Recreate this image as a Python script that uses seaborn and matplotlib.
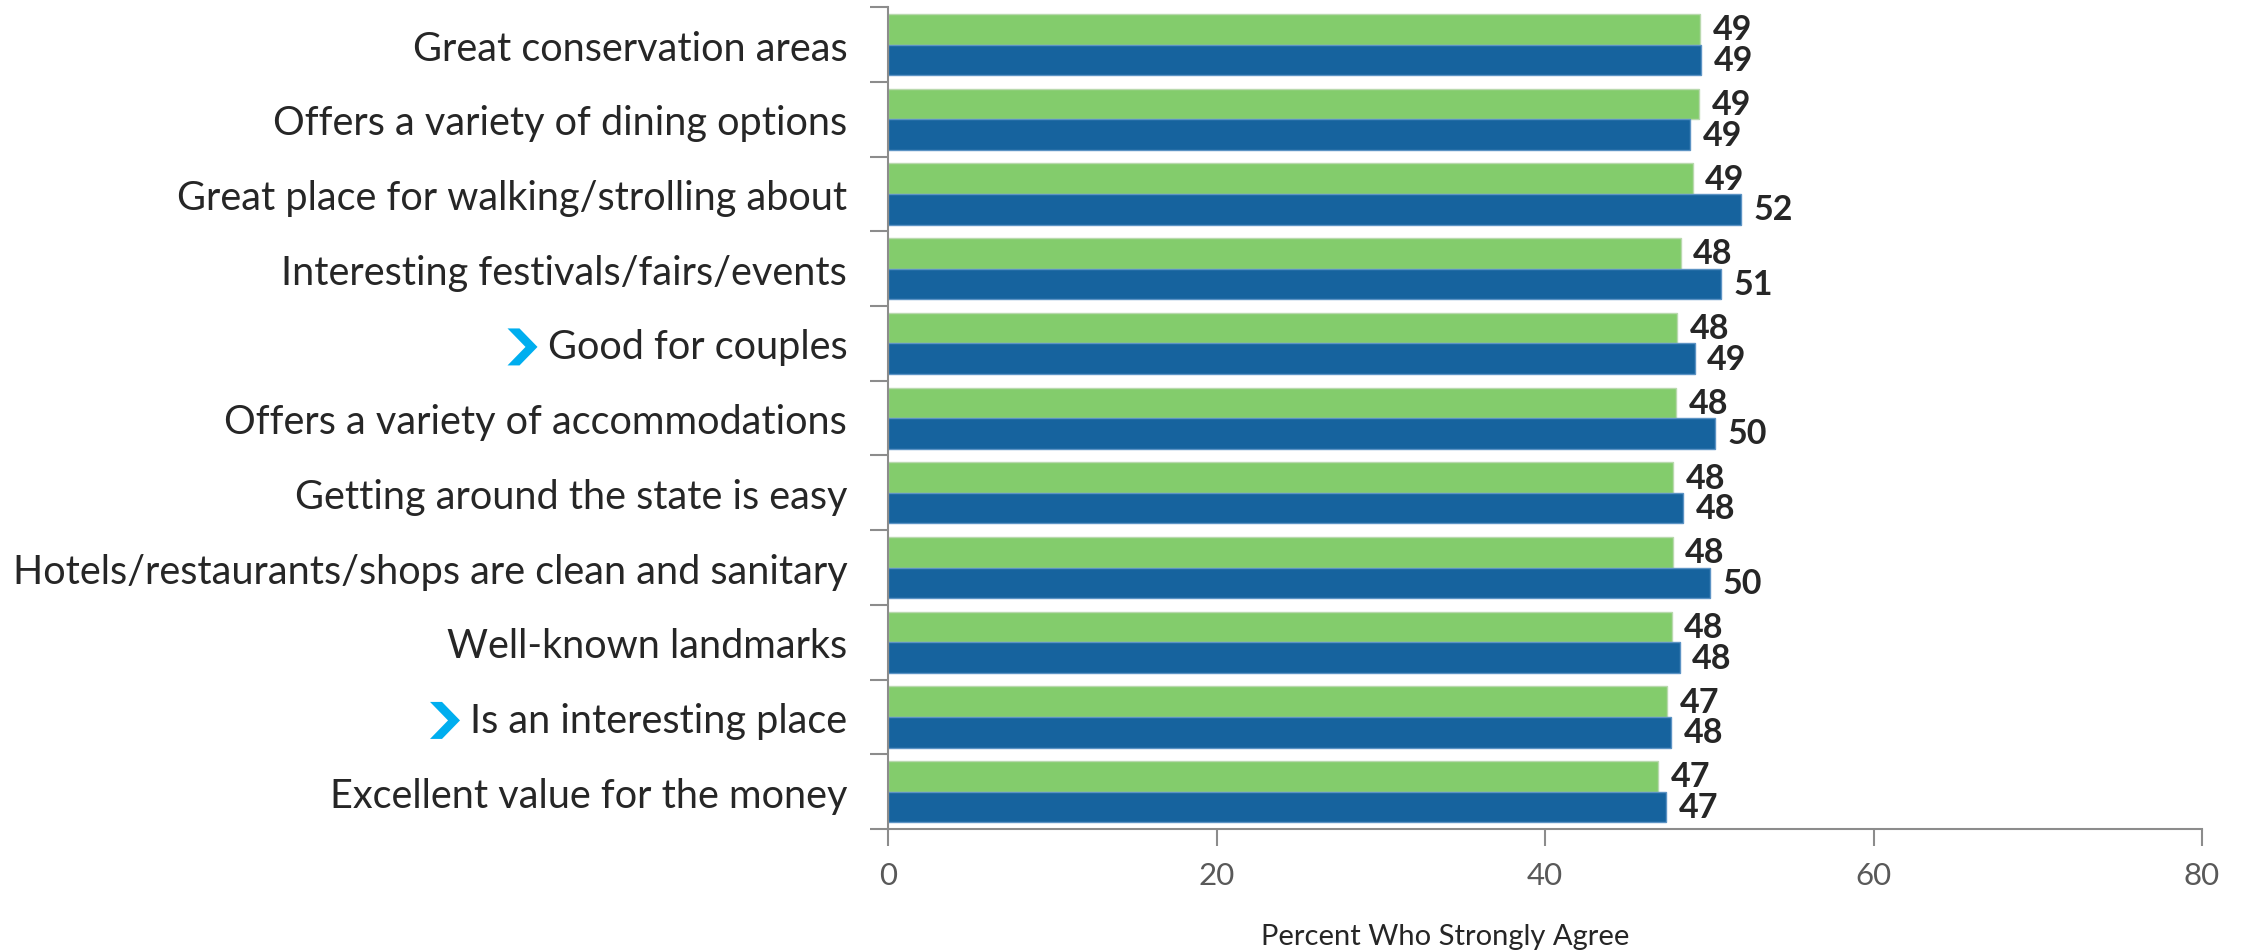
import matplotlib
matplotlib.use("Agg")
import matplotlib.pyplot as plt
import matplotlib.transforms as mtransforms
from matplotlib.patches import Polygon
import numpy as np
import pandas as pd
import seaborn as sns

# ---- data -------------------------------------------------------------
categories = [
    "Great conservation areas",
    "Offers a variety of dining options",
    "Great place for walking/strolling about",
    "Interesting festivals/fairs/events",
    "Good for couples",
    "Offers a variety of accommodations",
    "Getting around the state is easy",
    "Hotels/restaurants/shops are clean and sanitary",
    "Well-known landmarks",
    "Is an interesting place",
    "Excellent value for the money",
]
wave_1 = [49.45, 49.40, 48.98, 48.25, 48.06, 47.99, 47.80, 47.77, 47.70, 47.45, 46.90]
wave_2 = [49.49, 48.83, 51.93, 50.73, 49.10, 50.36, 48.40, 50.04, 48.20, 47.66, 47.37]
series_names = ["Wave 1", "Wave 2"]
highlighted = ["Good for couples", "Is an interesting place"]
x_ticks = [0, 20, 40, 60, 80]
x_label = "Percent Who Strongly Agree"

# ---- style ------------------------------------------------------------
GREEN = "#83CC6C"
BLUE = "#16639E"
GREEN_EDGE = "#B9D9AE"
BLUE_EDGE = "#5C93C4"
AXIS_GRAY = "#8C8C8C"
TEXT_DARK = "#262626"
TICK_GRAY = "#595959"
CHEVRON = "#00AEEF"

sns.set_theme(style="white")
plt.rcParams["font.family"] = ["Lato", "DejaVu Sans"]

df = pd.DataFrame({
    "Attribute": categories * 2,
    "Series": [series_names[0]] * len(categories) + [series_names[1]] * len(categories),
    "Percent": wave_1 + wave_2,
})

fig = plt.figure(figsize=(22.41, 9.53), dpi=100)
ax = fig.add_axes([0.3963, 0.1291, 0.5863, 0.8622])

sns.barplot(
    data=df, y="Attribute", x="Percent", hue="Series",
    order=categories, hue_order=series_names,
    palette=[GREEN, BLUE], saturation=1, width=0.82, gap=0,
    errorbar=None, legend=False, orient="h", ax=ax,
)

for container, edge in zip(ax.containers, [GREEN_EDGE, BLUE_EDGE]):
    for patch in container:
        patch.set_edgecolor(edge)
        patch.set_linewidth(1.0)
    ax.bar_label(
        container,
        labels=[f"{round(v)}" for v in container.datavalues],
        padding=9, fontsize=24.5, fontweight="bold", color=TEXT_DARK,
    )

# ---- axes -------------------------------------------------------------
ax.set_xlim(0, 80)
ax.set_xticks(x_ticks)
ax.set_ylim(len(categories) - 0.5, -0.5)
ax.set_yticks(np.arange(-0.5, len(categories)), minor=True)

ax.set_ylabel("")
ax.set_xlabel(x_label, fontsize=21, color=TEXT_DARK)
ax.xaxis.label.set_va("center")
ax.xaxis.set_label_coords(0.424, -0.130)

ax.tick_params(axis="x", which="major", bottom=True, direction="out",
               length=12, width=1.5, color=AXIS_GRAY, pad=11,
               labelsize=22.5, labelcolor=TICK_GRAY)
ax.tick_params(axis="y", which="major", left=True, length=0, pad=29.5,
               labelsize=28.5, labelcolor=TEXT_DARK)
ax.tick_params(axis="y", which="minor", left=True, direction="out",
               length=13, width=1.5, color=AXIS_GRAY)

for side in ("top", "right"):
    ax.spines[side].set_visible(False)
for side in ("left", "bottom"):
    ax.spines[side].set_color(AXIS_GRAY)
    ax.spines[side].set_linewidth(1.5)

# ---- chevron markers in front of highlighted attributes -------------
fig.canvas.draw()
renderer = fig.canvas.get_renderer()
for label in ax.get_yticklabels():
    if label.get_text() in highlighted:
        bb = label.get_window_extent(renderer)
        cy = (bb.y0 + bb.y1) / 2
        right = bb.x0 - 10
        w, h, t = 30, 37, 12
        left = right - w
        pts = [
            (left, cy + h / 2), (left + t, cy + h / 2), (right, cy),
            (left + t, cy - h / 2), (left, cy - h / 2), (right - t, cy),
        ]
        fig.patches.append(Polygon(pts, closed=True, facecolor=CHEVRON,
                                   edgecolor="none",
                                   transform=mtransforms.IdentityTransform(),
                                   figure=fig))

fig.savefig("out.png", dpi=100, facecolor="white")
